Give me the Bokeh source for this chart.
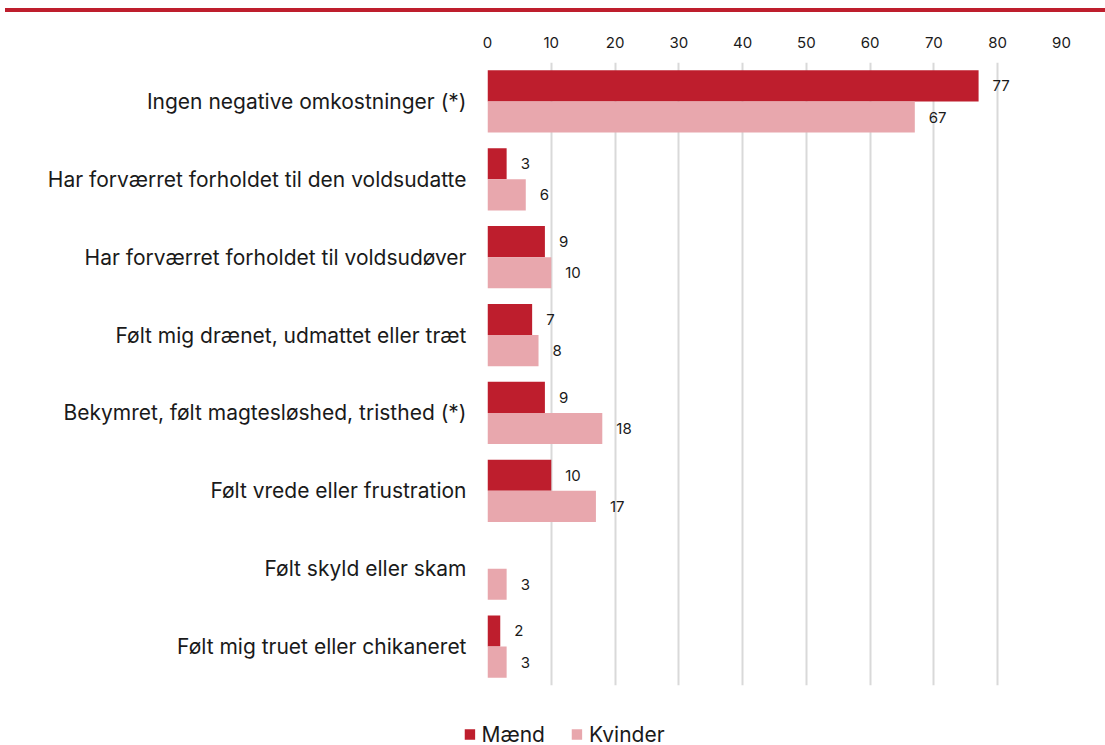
from bokeh.plotting import figure
from bokeh.models import (ColumnDataSource, FactorRange, Range1d, FixedTicker, LabelSet,
                          Legend, LegendItem, Div)
from bokeh.core.properties import value
from bokeh.transform import dodge
from bokeh.layouts import column
from bokeh.embed import file_html
from bokeh.resources import INLINE

categories = [
    "Ingen negative omkostninger (*)",
    "Har forværret forholdet til den voldsudatte",
    "Har forværret forholdet til voldsudøver",
    "Følt mig drænet, udmattet eller træt",
    "Bekymret, følt magtesløshed, tristhed (*)",
    "Følt vrede eller frustration",
    "Følt skyld eller skam",
    "Følt mig truet eller chikaneret",
]
maend = [77, 3, 9, 7, 9, 10, None, 2]
kvinder = [67, 6, 10, 8, 18, 17, 3, 3]
ticks = [0, 10, 20, 30, 40, 50, 60, 70, 80, 90]
series_names = ["Mænd", "Kvinder"]

DARK = "#BE1E2D"
PINK = "#E8A7AD"
FONT = "Inter"
TXT = "#1a1a1a"

src = ColumnDataSource(dict(
    cat=categories,
    m=[v if v is not None else float("nan") for v in maend],
    k=kvinder,
    m_lbl=[str(v) if v is not None else "" for v in maend],
    k_lbl=[str(v) for v in kvinder],
))

# main chart: frame from y=62 to 685 on the page
p = figure(width=1105, height=693, output_backend="svg", toolbar_location=None,
           y_range=FactorRange(*reversed(categories), range_padding=0),
           x_range=Range1d(0, 90), x_axis_location="above",
           min_border_left=487, min_border_right=44, min_border_top=50, min_border_bottom=20)
p.outline_line_color = None
p.background_fill_color = "white"

rm = p.hbar(y=dodge("cat", 0.2, range=p.y_range), right="m", left=0, height=0.4,
            source=src, fill_color=DARK, line_color=None)
rk = p.hbar(y=dodge("cat", -0.2, range=p.y_range), right="k", left=0, height=0.4,
            source=src, fill_color=PINK, line_color=None)

for col, lbl, off in (("m", "m_lbl", 0.2), ("k", "k_lbl", -0.2)):
    p.add_layout(LabelSet(x=col, y=dodge("cat", off, range=p.y_range), text=lbl, source=src,
                          x_offset=14, text_baseline="middle", text_align="left",
                          text_font_size="15px", text_font=value(FONT), text_color=TXT))

p.xaxis.ticker = FixedTicker(ticks=ticks)
p.xaxis.axis_line_color = None
p.xaxis.major_tick_line_color = None
p.xaxis.minor_tick_line_color = None
p.xaxis.major_label_standoff = 9
p.xaxis.major_label_text_font_size = "15px"
p.xaxis.major_label_text_font = FONT
p.xaxis.major_label_text_color = TXT

p.yaxis.axis_line_color = None
p.yaxis.major_tick_line_color = None
p.yaxis.major_label_standoff = 15
p.yaxis.major_label_text_font_size = "21px"
p.yaxis.major_label_text_font = FONT
p.yaxis.major_label_text_color = TXT

p.ygrid.grid_line_color = None
p.xgrid.grid_line_color = "#D9D9D9"
p.xgrid.grid_line_width = 2

# legend strip below the chart
lf = figure(width=1105, height=40, output_backend="svg", toolbar_location=None,
            x_range=Range1d(0, 1), y_range=Range1d(0, 1),
            min_border_left=22, min_border_right=0, min_border_top=18, min_border_bottom=0)
aligned_off = "frame_align" in lf.properties()
if aligned_off:
    lf.frame_align = False
lf.axis.visible = False
lf.grid.grid_line_color = None
lf.outline_line_color = None
dummy = ColumnDataSource(dict(y=[-5.0], l=[-5.0], r=[-4.0]))
lm = lf.hbar(y="y", left="l", right="r", height=0.4, source=dummy, fill_color=DARK, line_color=None)
lk = lf.hbar(y="y", left="l", right="r", height=0.4, source=dummy, fill_color=PINK, line_color=None)
legend = Legend(items=[LegendItem(label=series_names[0], renderers=[lm]),
                       LegendItem(label=series_names[1], renderers=[lk])],
                orientation="horizontal", location="center" if aligned_off else (0, 0),
                label_text_font_size="21px", label_text_font=FONT, label_text_color=TXT,
                glyph_width=13, glyph_height=13, label_height=22, label_standoff=6, spacing=25,
                border_line_color=None, background_fill_alpha=0, padding=0, margin=0)
lf.add_layout(legend)

bar = Div(text="", width=1100, height=4, margin=(8, 0, 0, 5),
          styles={"background-color": DARK})

layout = column(bar, p, lf, spacing=0)

open("out.html", "w").write(file_html(layout, INLINE))
